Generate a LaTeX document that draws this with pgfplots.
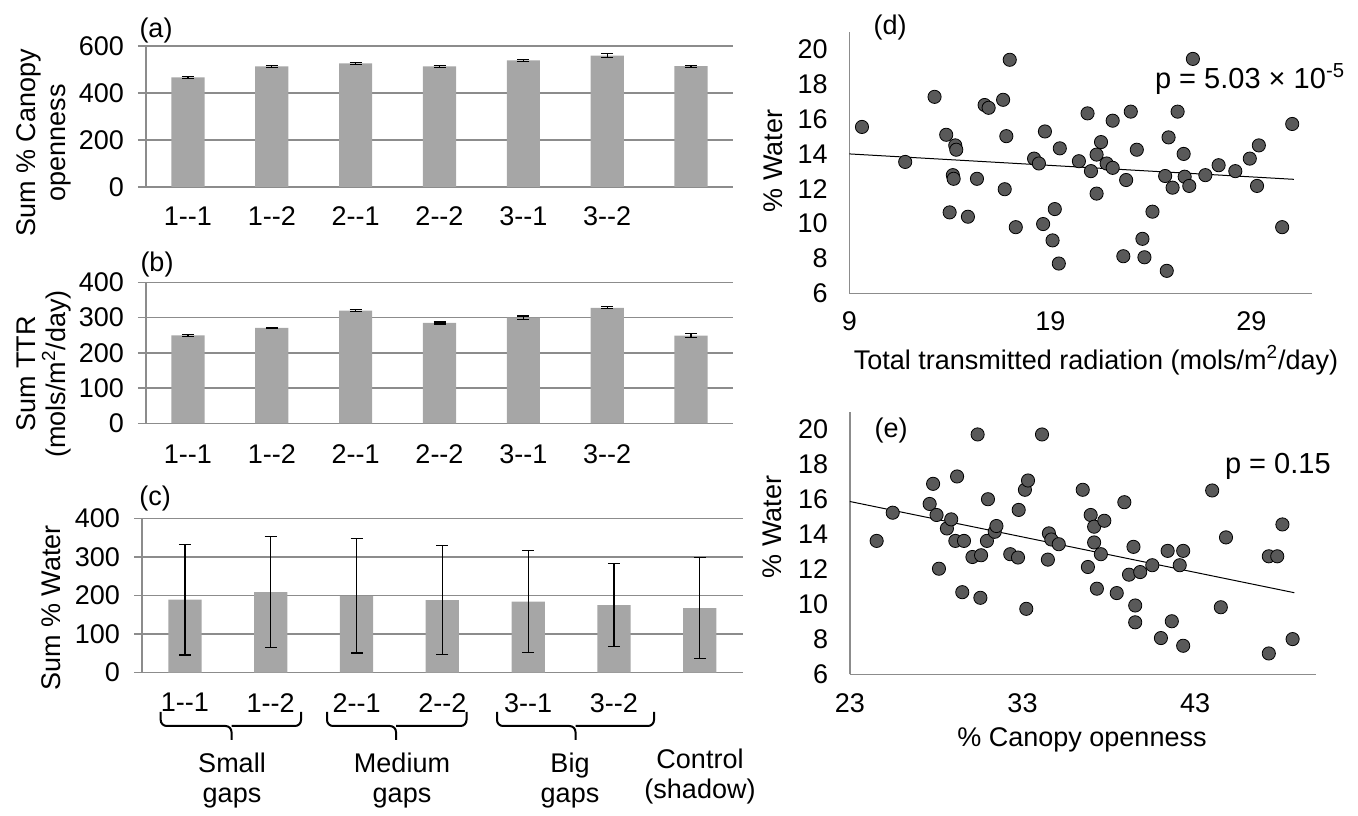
\documentclass[border=0pt]{standalone}
\usepackage{pgfplots}
\pgfplotsset{compat=1.18}
\usepackage{fontspec}
\setmainfont{Liberation Sans}

\definecolor{barc}{RGB}{166,166,166}
\definecolor{gridc}{RGB}{140,140,140}
\definecolor{dotc}{RGB}{89,89,89}
\newcommand\fs{\fontsize{13.5}{15}\selectfont}

\pgfplotsset{
  barax/.style={
    scale only axis,
    xmin=-0.5, xmax=6.5, ymin=0,
    xtick={0,...,6},
    axis x line*=bottom, axis y line*=left,
    axis line style={draw=gridc, line width=0.7pt},
    ymajorgrids, grid style={draw=gridc, line width=0.7pt},
    major tick length=4pt, tick align=outside,
    ytick style={draw=gridc, line width=0.7pt},
    xtick style={draw=none},
    tick label style={font=\fs},
    /pgf/number format/assume math mode=true,
    yticklabel style={xshift=-3.5pt},
    xticklabel style={anchor=north},
    ybar, bar width=16.6pt,
    clip=false,
  },
  barplot/.style={
    fill=barc, draw=none,
    error bars/.cd, y dir=both, y explicit,
    error bar style={black, line width=0.6pt},
    error mark options={rotate=90, mark size=3pt, black, line width=0.6pt},
  },
  scatax/.style={
    scale only axis,
    axis x line*=bottom, axis y line*=left,
    axis line style={draw=gridc, line width=0.6pt},
    major tick length=0pt,
    ymin=6, ymax=21, ytick={6,8,...,20},
    tick label style={font=\fs},
    /pgf/number format/assume math mode=true,
    yticklabel style={xshift=-7.3pt},
    clip=false,
  },
  dots/.style={only marks, mark=*, mark size=3.3pt,
    mark options={draw=none, fill=dotc}},
  trend/.style={black, line width=0.5pt, no marks},
}

\begin{document}
\begin{tikzpicture}
\begin{scope}[x=0.5pt, y=0.5pt]
  \useasboundingbox (0,0) rectangle (1358,814);
  \coordinate (A) at (146,814-187);
  \coordinate (B) at (146,814-423.3);
  \coordinate (C) at (142,814-672.7);
  \coordinate (D) at (849.3,814-293.3);
  \coordinate (E) at (849.9,814-674.3);
\end{scope}

% (a) canopy openness
\begin{axis}[barax, at={(A)}, anchor=south west,
  width=293.5pt, height=70.5pt,
  ymax=600, ytick={0,200,400,600},
  xticklabels={1-{}-1,1-{}-2,2-{}-1,2-{}-2,3-{}-1,3-{}-2,{}},
  xticklabel style={yshift=-2.2pt}]
\addplot[barplot] coordinates {
  (0,466) +- (0,4)
  (1,513) +- (0,4)
  (2,526) +- (0,4)
  (3,513) +- (0,4)
  (4,539) +- (0,4)
  (5,559) +- (0,9)
  (6,514) +- (0,4)
};
\end{axis}

% (b) total transmitted radiation
\begin{axis}[barax, at={(B)}, anchor=south west,
  width=293.5pt, height=70.4pt,
  ymax=400, ytick={0,100,...,400},
  xticklabels={1-{}-1,1-{}-2,2-{}-1,2-{}-2,3-{}-1,3-{}-2,{}},
  xticklabel style={yshift=-3.2pt}]
\addplot[barplot] coordinates {
  (0,250) +- (0,3)
  (1,271) +- (0,1.5)
  (2,320) +- (0,3)
  (3,285) +- (0,3)
  (4,300) +- (0,5)
  (5,328) +- (0,3)
  (6,249) +- (0,5)
};
\end{axis}

% (c) water content
\begin{axis}[barax, at={(C)}, anchor=south west,
  width=300.35pt, height=77.2pt,
  ymax=400, ytick={0,100,...,400},
  xticklabels={1-{}-1,1-{}-2,2-{}-1,2-{}-2,3-{}-1,3-{}-2,{}},
  xticklabel style={yshift=-2.7pt}]
\addplot[barplot] coordinates {
  (0,189) +- (0,143)
  (1,209) +- (0,143)
  (2,199) +- (0,148)
  (3,188) +- (0,141)
  (4,184) +- (0,132)
  (5,175) +- (0,107)
  (6,167) +- (0,131)
};
\end{axis}

% (d) water vs transmitted radiation
\begin{axis}[scatax, at={(D)}, anchor=south west,
  width=231.2pt, height=130.5pt,
  xmin=9, xmax=32, xtick={9,19,29},
  xticklabel style={yshift=-5.5pt}]
\addplot[dots] table {
9.63 15.56
11.78 13.55
13.24 17.29
13.82 15.11
14.27 14.50
14.32 14.25
14.15 12.79
14.19 12.58
13.99 10.65
14.90 10.40
15.35 12.58
15.73 16.82
15.93 16.66
16.65 17.12
16.98 19.42
16.81 15.03
16.73 11.98
17.28 9.80
18.19 13.74
18.43 13.46
18.73 15.30
19.22 10.84
18.64 9.98
19.11 9.04
19.42 7.71
19.47 14.33
20.42 13.59
20.85 16.34
21.02 13.02
21.30 13.97
21.52 14.69
21.30 11.73
21.80 13.46
22.10 15.92
22.10 13.21
22.63 8.13
22.77 12.51
23.00 16.44
23.30 14.25
23.58 9.13
23.68 8.07
24.08 10.69
24.88 14.96
24.71 12.74
24.79 7.29
25.08 12.07
25.33 16.44
25.63 14.01
25.68 12.70
25.91 12.17
26.09 19.47
26.71 12.79
27.37 13.36
28.20 13.02
28.92 13.74
29.37 14.50
29.28 12.17
30.53 9.80
31.03 15.73
};
\addplot[trend] coordinates {(9,14.01) (31.11,12.55)};
\end{axis}

% (e) water vs canopy openness
\begin{axis}[scatax, at={(E)}, anchor=south west,
  width=233pt, height=131.3pt,
  xmin=23, xmax=50, xtick={23,33,43},
  xticklabel style={yshift=-6pt}]
\addplot[dots] table {
24.55 13.62
25.48 15.23
27.62 15.73
27.82 16.88
28.02 15.10
28.16 12.03
28.62 14.33
28.87 14.85
29.11 13.62
29.61 13.62
29.21 17.30
29.51 10.69
30.10 12.70
30.60 12.80
30.40 19.70
30.56 10.37
30.94 13.62
31.00 16.00
31.39 14.14
31.49 14.47
32.29 12.86
32.74 12.67
32.78 15.39
33.14 16.54
33.32 17.07
33.22 9.74
34.13 19.70
34.47 12.55
34.53 14.05
34.67 13.70
35.10 13.43
36.49 16.54
36.95 15.10
37.15 14.43
37.74 14.77
37.15 13.53
37.54 12.86
36.79 12.13
37.31 10.89
38.46 10.64
38.90 15.83
39.43 13.28
39.17 11.69
39.82 11.84
40.52 12.23
39.53 9.93
39.53 8.97
41.02 8.07
41.41 13.05
41.65 9.03
42.11 12.23
42.31 13.05
42.31 7.63
43.99 16.50
44.79 13.82
44.49 9.83
47.27 12.74
47.76 12.74
48.06 14.56
47.27 7.19
48.65 8.01
};
\addplot[trend] coordinates {(23,15.87) (48.75,10.66)};
\end{axis}

% labels, panel letters and group braces
\begin{scope}[x=0.5pt, y=0.5pt, font=\fs]
  \node at (156,814-31) {(a)};
  \node at (157,814-265) {(b)};
  \node at (155,814-499) {(c)};
  \node at (890,814-28) {(d)};
  \node at (891,814-431) {(e)};

  \node[rotate=90, align=center] at (44,814-143) {Sum \% Canopy\\openness};
  \node[rotate=90, align=center] at (44,814-374) {Sum TTR\\(mols/m\textsuperscript{2}/day)};
  \node[rotate=90] at (51,814-608) {Sum \% Water};

  \node[rotate=90] at (773,814-161) {\% Water};
  \node[rotate=90] at (772,814-527) {\% Water};
  \node at (1096,814-360) {Total transmitted radiation (mols/m\textsuperscript{2}/day)};
  \node at (1082,814-740) {\% Canopy openness};

  \node[anchor=base west, font=\fontsize{14.5}{16}\selectfont] at (1148,814-88.3) {p = 5.03 × 10\textsuperscript{-5}};
  \node[anchor=base west, font=\fontsize{14.5}{16}\selectfont] at (1218,814-474) {p = 0.15};

  \begin{scope}[line width=1pt, rounded corners=3pt]
    \draw (160.7,814-712) -- (160.7,814-726) -- (231.5,814-726) -- (231.5,814-740);
    \draw (301,814-712) -- (301,814-726) -- (231.5,814-726);
    \draw (327,814-712) -- (327,814-726) -- (396,814-726) -- (396,814-740);
    \draw (466.5,814-712) -- (466.5,814-726) -- (396,814-726);
    \draw (497,814-712) -- (497,814-726) -- (575.5,814-726) -- (575.5,814-740);
    \draw (654,814-712) -- (654,814-726) -- (575.5,814-726);
  \end{scope}

  \node[align=center] at (232,814-781) {Small\\gaps};
  \node[align=center] at (402,814-781) {Medium\\gaps};
  \node[align=center] at (570,814-781) {Big\\gaps};
  \node[align=center] at (700,814-777) {Control\\(shadow)};
\end{scope}
\end{tikzpicture}
\end{document}
